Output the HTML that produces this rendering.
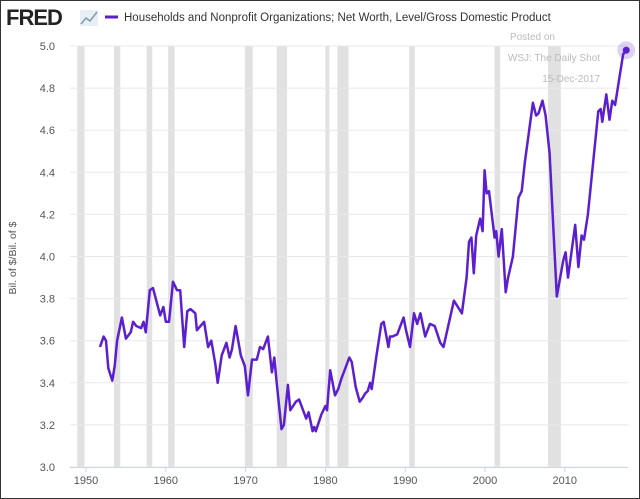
<!DOCTYPE html>
<html><head><meta charset="utf-8"><style>
body{margin:0;background:#fff;}
svg{display:block;font-family:"Liberation Sans",sans-serif;}
</style></head><body>
<svg id="c" width="640" height="499" viewBox="0 0 640 499">
<rect x="0.5" y="0.5" width="639" height="498" fill="#fff" stroke="#333"/>
<text x="6" y="25" font-size="22" font-weight="bold" fill="#222" letter-spacing="-1">FRED</text>
<g><rect x="80" y="10" width="18" height="16" fill="#e8eef4"/><polyline points="81,24 86,18 90,21 97,12" fill="none" stroke="#7a9ab8" stroke-width="1.5"/></g>
<line x1="105" y1="17" x2="118" y2="17" stroke="#5b1fd0" stroke-width="3"/>
<text x="124" y="21" font-size="11.5" fill="#333">Households and Nonprofit Organizations; Net Worth, Level/Gross Domestic Product</text>
<text transform="translate(16,258) rotate(-90)" text-anchor="middle" font-size="10.5" fill="#555">Bil. of $/Bil. of $</text>
<g id="rec"></g><g id="grid"></g><g id="ax"></g>
<text x="555" y="40" text-anchor="end" font-size="10" fill="#bbb">Posted on</text>
<text x="600" y="61" text-anchor="end" font-size="10" fill="#bbb">WSJ: The Daily Shot</text>
<text x="600" y="82" text-anchor="end" font-size="10" fill="#bbb">15-Dec-2017</text>
<g id="ser"></g>
</svg>
<script>
const yTicks=[3.0,3.2,3.4,3.6,3.8,4.0,4.2,4.4,4.6,4.8,5.0];
const xTicks=[1950,1960,1970,1980,1990,2000,2010];
const recStart=[1948.9,1953.5,1957.6,1960.3,1969.9,1973.9,1980.0,1981.5,1990.5,2001.2,2007.9];
const recEnd=[1949.8,1954.3,1958.3,1961.1,1970.9,1975.2,1980.5,1982.9,1991.2,2001.9,2009.5];
const years=[1951.75,1952.2,1952.5,1952.8,1953.3,1953.6,1953.9,1954.5,1955,1955.6,1955.9,1956.3,1956.9,1957.2,1957.5,1958,1958.4,1959.3,1959.7,1960,1960.4,1960.9,1961.4,1961.8,1962.3,1962.7,1963.1,1963.7,1963.9,1964.8,1965.3,1965.7,1966.2,1966.5,1967,1967.6,1968,1968.3,1968.75,1969.4,1969.9,1970.3,1970.8,1971.4,1971.8,1972.2,1972.8,1973.3,1973.6,1973.9,1974.5,1974.8,1975.3,1975.6,1976.3,1976.7,1977.6,1977.9,1978.4,1978.6,1978.8,1979.5,1980,1980.2,1980.6,1981.2,1981.6,1982,1982.5,1983,1983.3,1983.8,1984.3,1984.7,1985,1985.3,1985.6,1985.8,1986.4,1987,1987.3,1987.9,1988.1,1988.4,1989,1989.8,1990.1,1990.6,1991.1,1991.5,1991.9,1992.5,1993.1,1993.7,1994.4,1994.8,1996.1,1997.1,1997.7,1998,1998.3,1998.6,1998.9,1999.4,1999.7,1999.95,2000.2,2000.5,2001.2,2001.4,2001.7,2002.1,2002.6,2002.9,2003.5,2004.2,2004.6,2005,2006,2006.4,2006.7,2007.2,2007.6,2008.1,2009,2009.8,2010.1,2010.4,2011.3,2011.7,2012.1,2012.4,2012.9,2014.2,2014.5,2014.7,2015.2,2015.6,2015.95,2016.3,2017.3,2017.7];
const values=[3.57,3.62,3.60,3.47,3.41,3.48,3.60,3.71,3.61,3.64,3.69,3.67,3.66,3.69,3.64,3.84,3.85,3.72,3.76,3.69,3.69,3.88,3.84,3.84,3.57,3.74,3.75,3.73,3.65,3.69,3.57,3.60,3.49,3.40,3.53,3.59,3.52,3.56,3.67,3.53,3.48,3.34,3.51,3.51,3.57,3.56,3.62,3.45,3.52,3.40,3.18,3.20,3.39,3.27,3.31,3.32,3.23,3.26,3.17,3.19,3.17,3.25,3.29,3.27,3.46,3.34,3.37,3.42,3.47,3.52,3.50,3.38,3.31,3.33,3.35,3.36,3.40,3.37,3.53,3.68,3.69,3.57,3.62,3.62,3.63,3.71,3.65,3.57,3.73,3.68,3.73,3.62,3.68,3.67,3.59,3.57,3.79,3.73,3.90,4.07,4.09,3.92,4.10,4.18,4.12,4.41,4.30,4.31,4.09,4.12,4.00,4.13,3.83,3.90,4.00,4.28,4.31,4.45,4.73,4.67,4.68,4.74,4.67,4.49,3.81,3.98,4.02,3.90,4.15,3.95,4.10,4.08,4.20,4.69,4.70,4.64,4.77,4.65,4.74,4.72,4.96,4.98];
const X0=70,X1=628,Y0=467,Y1=46;
const xs=yr=>86+(yr-1950)*7.98;
const ys=v=>Y0-(v-3)*(Y0-Y1)/2;
const NS='http://www.w3.org/2000/svg';
function mk(tag,attrs,parent,txt){const e=document.createElementNS(NS,tag);for(const k in attrs)e.setAttribute(k,attrs[k]);if(txt!==undefined)e.textContent=txt;document.getElementById(parent).appendChild(e);return e;}
for(let i=0;i<recStart.length;i++){
 const r=mk('rect',{x:xs(recStart[i]),y:Y1,width:xs(recEnd[i])-xs(recStart[i]),height:Y0-Y1,fill:'#e1e1e1'},'rec');
 
 
}
yTicks.forEach(t=>{
 const l=mk('line',{x1:X0,x2:X1,y1:ys(t),y2:ys(t),stroke:'#e8e8e8','stroke-width':1},'grid');
 
 
 const tx=mk('text',{x:55,y:ys(t)+4,'text-anchor':'end','font-size':11,fill:'#555'},'ax',t.toFixed(1));
 
 
});
const ax=mk('line',{x1:X0,x2:X1,y1:Y0+0.5,y2:Y0+0.5,stroke:'#ccd6eb'},'ax');


xTicks.forEach(t=>{
 const tk=mk('line',{x1:xs(t),x2:xs(t),y1:Y0,y2:Y0+5,stroke:'#ccd6eb'},'ax');
 
 
 const tx=mk('text',{x:xs(t),y:484,'text-anchor':'middle','font-size':11,fill:'#555'},'ax',String(t));
 
 
});
const pts=years.map((y,i)=>xs(y).toFixed(1)+','+ys(values[i]).toFixed(1)).join(' ');
const pl=mk('polyline',{points:pts,fill:'none',stroke:'#5b1fd0','stroke-width':2.5,'stroke-linejoin':'round'},'ser');


const n=years.length-1;
const halo=mk('circle',{cx:xs(years[n]),cy:ys(values[n]),r:9,fill:'#5b1fd0','fill-opacity':0.2},'ser');


const dot=mk('circle',{cx:xs(years[n]),cy:ys(values[n]),r:3.5,fill:'#5b1fd0'},'ser');


</script>
</body></html>
